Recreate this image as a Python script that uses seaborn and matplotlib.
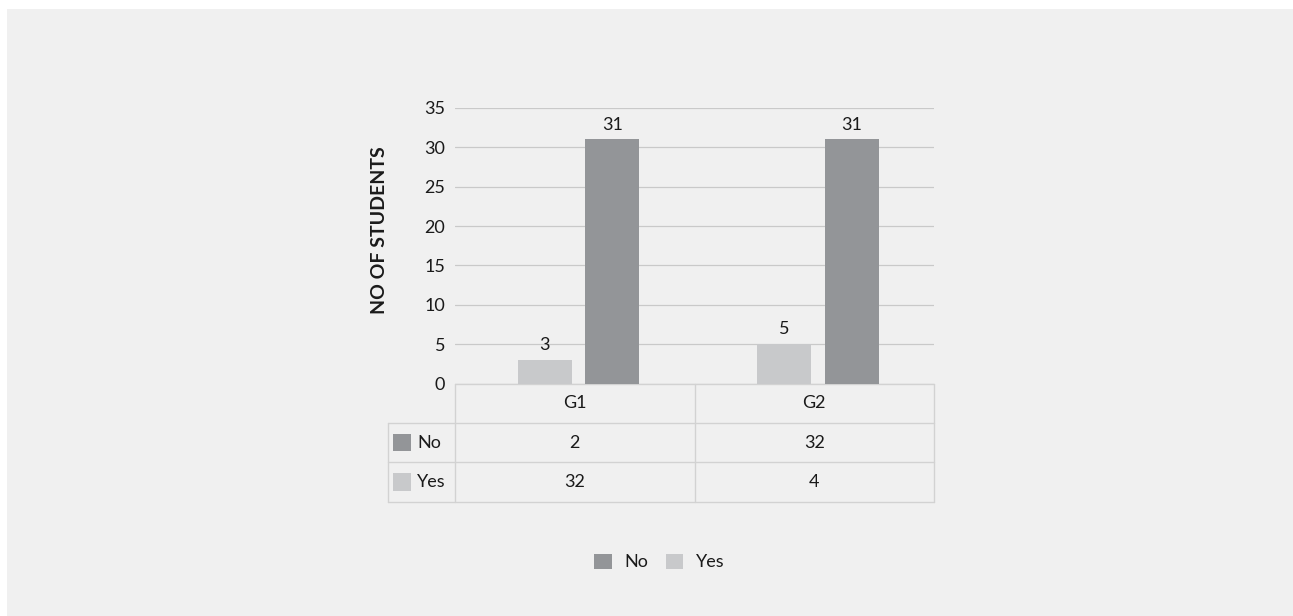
import matplotlib
matplotlib.use("Agg")
import matplotlib.pyplot as plt
import matplotlib.patches as mpatches
from matplotlib.transforms import blended_transform_factory
import seaborn as sns
import pandas as pd

# ---- data ----
categories = ["G1", "G2"]
series_names = ["Yes", "No"]
yes_values = [3, 5]
no_values = [31, 31]
table_rows = ["No", "Yes"]
table_no = [2, 32]
table_yes = [32, 4]
y_ticks = [0, 5, 10, 15, 20, 25, 30, 35]
y_label = "NO OF STUDENTS"

# ---- style ----
BG = "#f0f0f0"
DARK = "#939598"
LIGHT = "#c8c9cb"
GRID = "#c9c9c9"
TABLE_LINE = "#d2d2d2"
TXT = "#1a1a1a"
FONT = "Lato"
FS = 13

sns.set_theme(style="white")
plt.rcParams["font.family"] = [FONT, "DejaVu Sans"]

df = pd.DataFrame({
    "group": categories * 2,
    "answer": [series_names[0]] * len(categories) + [series_names[1]] * len(categories),
    "value": yes_values + no_values,
})
palette = {"Yes": LIGHT, "No": DARK}

fig = plt.figure(figsize=(12.93, 6.16), dpi=100, facecolor="white")
fig.patches.append(mpatches.Rectangle((7 / 1293, 0), 1, 1 - 9 / 616,
                                      transform=fig.transFigure, facecolor=BG,
                                      edgecolor="none", zorder=-10))
ax = fig.add_axes([455 / 1293, 1 - 383.5 / 616, 479 / 1293, 275.5 / 616])
ax.set_facecolor(BG)
ax.patch.set_alpha(0)

sns.barplot(data=df, x="group", y="value", hue="answer", order=categories,
            hue_order=series_names, palette=palette, width=0.565, gap=0.2,
            saturation=1, linewidth=0, edgecolor="none",
            ax=ax, legend=False, zorder=3)
for cont in ax.containers:
    ax.bar_label(cont, padding=5, fontsize=FS, color=TXT)

ax.set_ylim(0, 35)
ax.set_xlim(-0.516, 1.484)
ax.set_yticks(y_ticks)
ax.set_yticklabels([str(t) for t in y_ticks], fontsize=FS, color=TXT)
ax.tick_params(axis="y", length=0, pad=7)
ax.set_xticks([])
ax.set_xlabel("")
ax.set_ylabel("")
for s in ax.spines.values():
    s.set_visible(False)
ax.grid(axis="y", color=GRID, linewidth=0.9, zorder=0)
ax.set_axisbelow(True)

fig.text(379.5 / 1293, 1 - 230 / 616, y_label, rotation=90, ha="center",
         va="center", fontsize=14, fontweight="bold", color=TXT)

# ---- data table below the axis ----
tr = blended_transform_factory(ax.transAxes, ax.transData)
row_h = 5.0
left_lab = -(455 - 388) / 479
ncat = len(categories)
col_edges = [i / ncat for i in range(ncat + 1)]
nrows = len(table_rows)
bottom = -row_h * (nrows + 1)

def hline(x0, x1, y):
    ax.plot([x0, x1], [y, y], color=TABLE_LINE, lw=1.0, transform=tr, clip_on=False, zorder=2)

def vline(x, y0, y1):
    ax.plot([x, x], [y0, y1], color=TABLE_LINE, lw=1.0, transform=tr, clip_on=False, zorder=2)

hline(0, 1, 0)
for r in range(1, nrows + 2):
    hline(left_lab, 1, -row_h * r)
for x in col_edges:
    vline(x, 0, bottom)
vline(left_lab, -row_h, bottom)

for i, c in enumerate(categories):
    ax.text((i + 0.5) / ncat, -row_h / 2, c, transform=tr, ha="center", va="center",
            fontsize=FS, color=TXT)

row_values = {"No": table_no, "Yes": table_yes}
sw_w = 17.7 / 479
sw_h = 17.7 / (275.5 / 35)
for r, name in enumerate(table_rows):
    yc = -row_h * (r + 1.5)
    ax.add_patch(mpatches.Rectangle((left_lab + 5 / 479, yc - sw_h / 2), sw_w, sw_h,
                                    transform=tr, facecolor=palette[name],
                                    edgecolor="none", clip_on=False))
    ax.text(left_lab + 29 / 479, yc, name, transform=tr, ha="left", va="center",
            fontsize=FS, color=TXT)
    for i, v in enumerate(row_values[name]):
        ax.text((i + 0.5) / ncat, yc, str(v), transform=tr, ha="center", va="center",
                fontsize=FS, color=TXT)

# ---- legend ----
handles = [mpatches.Patch(facecolor=palette[n], edgecolor="none", label=n) for n in ["No", "Yes"]]
fig.legend(handles=handles, loc="center", bbox_to_anchor=(0.51, 1 - 562 / 616), ncol=2,
           frameon=False, fontsize=FS, handlelength=0.95, handleheight=0.95,
           handletextpad=0.7, columnspacing=1.0, labelcolor=TXT)

fig.savefig("out.png", dpi=100, facecolor="white")
